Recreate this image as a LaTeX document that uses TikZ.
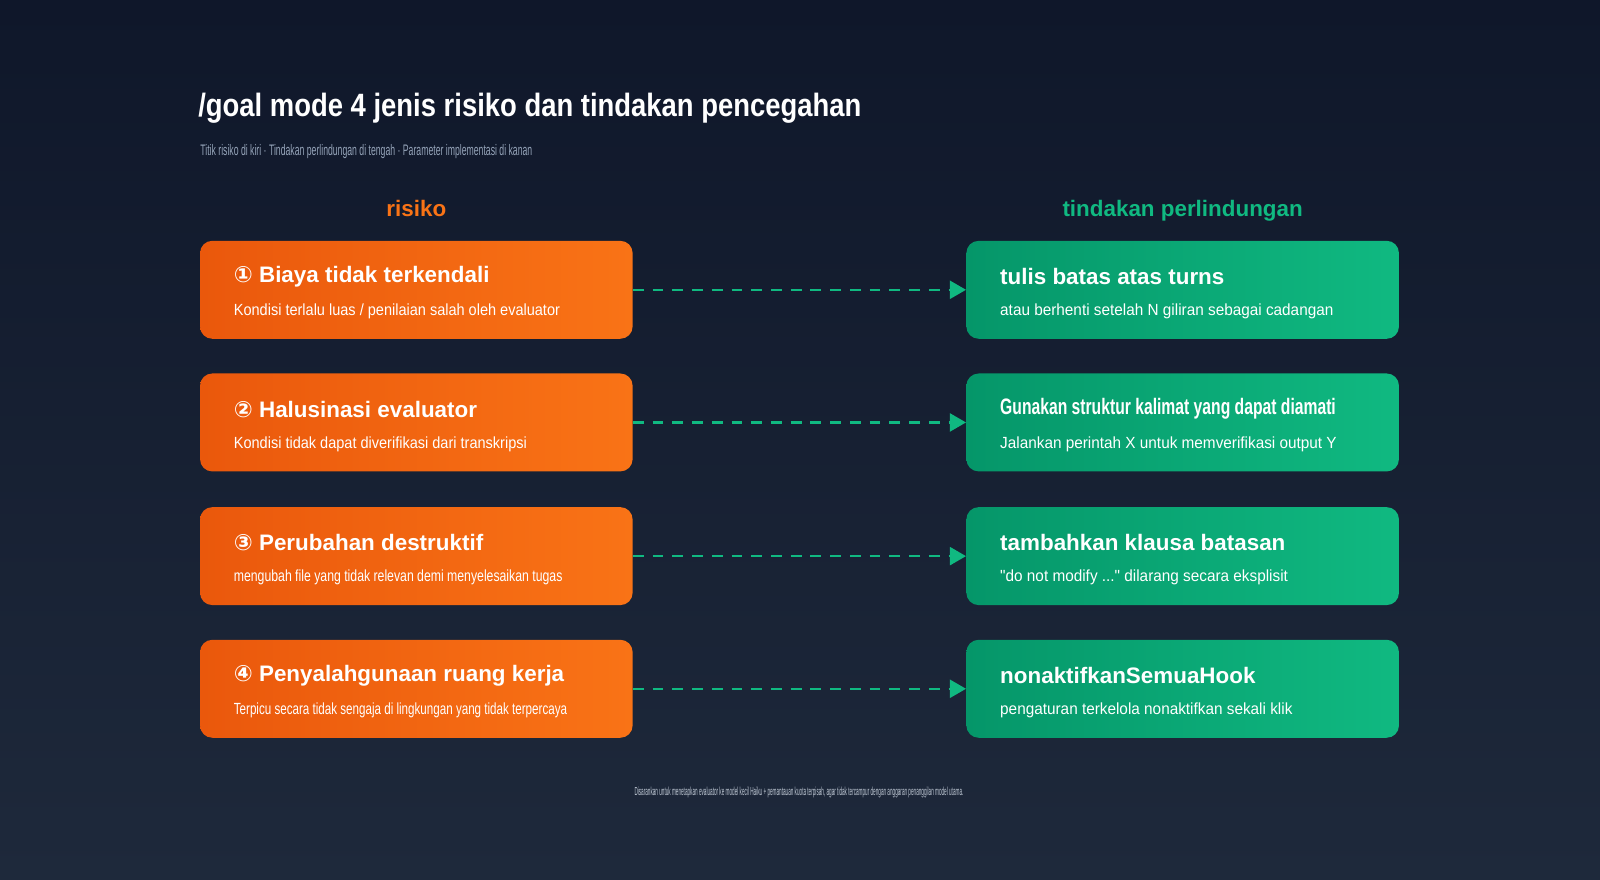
\documentclass[tikz,border=0pt]{standalone}
\usepackage{fontspec}
\setmainfont{Liberation Sans}
\newfontfamily\sym{DejaVu Sans}
\newfontfamily\plainf{Liberation Sans}
\usetikzlibrary{arrows.meta}
\definecolor{bgA}{HTML}{0F172A}\definecolor{bgB}{HTML}{1E293B}
\definecolor{orA}{HTML}{EA580C}\definecolor{orB}{HTML}{F97316}
\definecolor{grA}{HTML}{059669}\definecolor{grB}{HTML}{10B981}
\definecolor{subc}{HTML}{94A3B8}
\newcommand{\cnd}[2]{\scalebox{#1}[1]{#2}}
\newcommand{\sq}{{\plainf"}}
\begin{document}
\begin{tikzpicture}[x=0.02cm,y=-0.02cm,
 box/.style={rounded corners=0.24cm,minimum width=8.48cm,minimum height=1.92cm,inner sep=0pt},
 risk/.style={box,left color=orA,right color=orB},
 prot/.style={box,left color=grA,right color=grB},
 ttl/.style={text=white,font=\bfseries\fontsize{12.5}{14}\selectfont,anchor=west},
 sub/.style={text=white,font=\fontsize{9}{11}\selectfont,anchor=west},
 conn/.style={draw=grB,line width=1.4pt,dash pattern=on 6pt off 5pt,-{Triangle[length=9pt,width=10pt]}}]
\shade[shading angle=135,top color=bgA,bottom color=bgB] (0,0) rectangle (1568,862);
\useasboundingbox (0,0) rectangle (1568,862);
\node[anchor=base west,text=white,inner sep=0] (title) at (194,114) {\cnd{0.85}{\bfseries\fontsize{18}{20}\selectfont /goal mode 4 jenis risiko dan tindakan pencegahan}};
\node[anchor=base west,text=subc,inner sep=0] (subt) at (196,152) {\cnd{0.57}{\fontsize{8.5}{10}\selectfont Titik risiko di kiri · Tindakan perlindungan di tengah · Parameter implementasi di kanan}};
\node[text=orB,font=\bfseries\fontsize{12.5}{14}\selectfont,anchor=base] (hl) at (408,212) {risiko};
\node[text=grB,font=\bfseries\fontsize{12.5}{14}\selectfont,anchor=base] (hr) at (1159,212) {tindakan perlindungan};
\foreach \i/\y/\n/\ta/\sa/\tb/\sb/\ca/\cb in {
 1/284/①/{Biaya tidak terkendali}/{Kondisi terlalu luas / penilaian salah oleh evaluator}/{tulis batas atas turns}/{atau berhenti setelah N giliran sebagai cadangan}/0.9/1,
 2/414/②/{Halusinasi evaluator}/{Kondisi tidak dapat diverifikasi dari transkripsi}/{Gunakan struktur kalimat yang dapat diamati}/{Jalankan perintah X untuk memverifikasi output Y}/0.9/0.70,
 3/545/③/{Perubahan destruktif}/{mengubah file yang tidak relevan demi menyelesaikan tugas}/{tambahkan klausa batasan}/{\sq do not modify ...\sq\ dilarang secara eksplisit}/0.76/1,
 4/675/④/{Penyalahgunaan ruang kerja}/{Terpicu secara tidak sengaja di lingkungan yang tidak terpercaya}/{nonaktifkanSemuaHook}/{pengaturan terkelola nonaktifkan sekali klik}/0.72/1}{
 \node[risk] (r\i) at (408,\y) {};
 \node[prot] (p\i) at (1159,\y) {};
 \node[ttl] at (223,\y-13) {{\sym\n} \ta};
 \node[sub] at (223,\y+21) {\cnd{\ca}{\sa}};
 \node[ttl] at (974,\y-13) {\cnd{\cb}{\tb}};
 \node[sub] at (974,\y+21) {\cnd{0.95}{\sb}};
 \draw[conn] (r\i.east) -- (p\i.west);
}
\node[text=subc!60!white,inner sep=0] (foot) at (783,777) {\cnd{0.40}{\fontsize{6.5}{8}\selectfont Disarankan untuk menetapkan evaluator ke model kecil Haiku + pemantauan kuota terpisah, agar tidak tercampur dengan anggaran penanggilan model utama.}};
\end{tikzpicture}
\end{document}
